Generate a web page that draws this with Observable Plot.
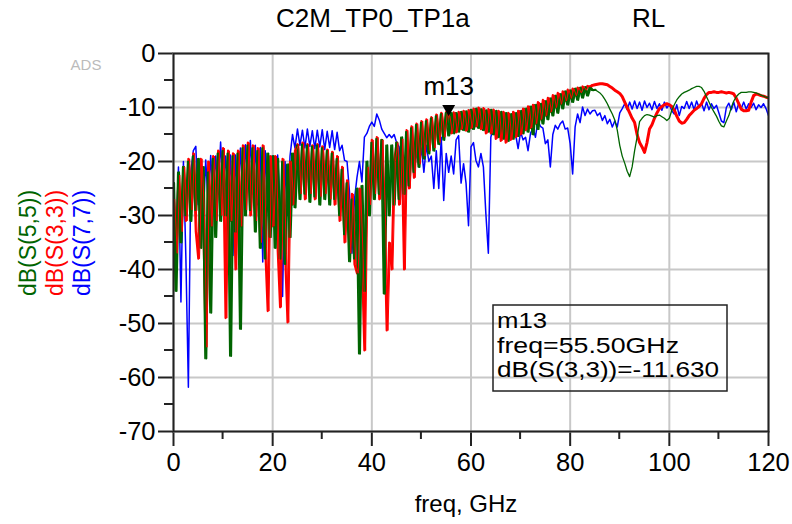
<!DOCTYPE html>
<html><head><meta charset="utf-8">
<script src="https://cdn.jsdelivr.net/npm/d3@7"></script>
<script src="https://cdn.jsdelivr.net/npm/@observablehq/plot@0.6"></script>
<style>
html,body{margin:0;padding:0;background:#fff;}
#chart{width:792px;height:524px;overflow:hidden;}
#chart svg [aria-label^="x-axis"] path, #chart svg [aria-label^="x-axis"] line,
#chart svg [aria-label^="y-axis"] path, #chart svg [aria-label^="y-axis"] line {stroke:#222;stroke-width:2px;}
</style></head><body><div id="chart"></div>
<script>
// frequency grid (GHz), 0.5 GHz sampling
const freq = d3.range(0, 241).map(i => i * 0.5);

// dB(S(5,5)) green
const s55 = [
-24,-44,-22,-35,-21,-30,-20,-31,-19,-29,
-19.5,-36,-21,-56.5,-22,-48,-19.5,-34,-18.5,-31,
-18,-30,-18.5,-56,-19,-33,-18.5,-51,-17.5,-30,
-17,-29,-17.5,-33,-18,-36,-17.5,-38,-18.5,-34,
-19,-36,-19.5,-38,-20,-39,-20.5,-34,-18.5,-28.5,
-17,-27,-16.8,-26,-17,-27.5,-17.2,-26.5,-17,-28,
-17.5,-27,-18,-28,-18.5,-27,-19.5,-30,-21.5,-33.5,
-24,-38.5,-27,-38,-25,-55.6,-24.5,-44,-20,-30,
-16.5,-27,-15.8,-26,-16,-44.5,-17,-30,-17,-28,
-16.5,-27,-15.5,-26,-14.5,-24.5,-13.8,-22,-13.2,-21,
-12.8,-19.5,-12.5,-18.5,-12,-18,-11.6,-16.8,-11.2,-16,
-11,-15.2,-11,-14.8,-11,-14.5,-10.8,-14.2,-10.7,-14.5,
-10.4,-14,-10.2,-13.8,-10.3,-14.2,-10.5,-14.5,-10.4,-15,
-10.6,-15.5,-10.8,-15.8,-11,-16.2,-11.2,-15.8,-11,-15.3,
-10.6,-14.8,-10.2,-14.5,-9.8,-15,-9.5,-14,-9.3,-13,
-8.8,-12.2,-8.3,-11.5,-7.8,-11,-7.5,-10.2,-7,-9.5,
-6.8,-9,-6.5,-8.6,-6.3,-8.2,-6.2,-7.8,-6.3,-6.8,
-6.7,-7.0,-7.3,-7.8,-8.5,-9.3,-10.3,-11.2,-12.3,-14.2,
-17,-19,-20.3,-21.8,-22.8,-21,-18,-15.5,-12.6,-12,
-11.5,-11.3,-11.4,-11.6,-11.8,-11.5,-11.4,-11.7,-12,-12.4,
-12,-10.5,-9.5,-8.6,-8,-7.5,-7.2,-7,-6.8,-6.5,
-6.3,-6.1,-6.1,-6.3,-7,-8,-9,-10,-10.8,-11.6,
-12.6,-13.4,-13.6,-12.5,-11.5,-10,-8.8,-8,-7.5,-7.2,
-7.2,-7.2,-7.1,-7.1,-7.2,-7.3,-7.5,-7.7,-7.9,-8.1,
-8.2];

// dB(S(3,3)) red
const s33 = [
-27,-37,-22.5,-33,-21,-31,-19.5,-29,-18.5,-33,
-38,-19.5,-30,-54.4,-20,-32,-19,-31,-18,-30,
-17.5,-49,-18,-31,-18.5,-40,-18,-32,-17,-29,
-16.5,-30,-17,-31,-17.5,-35,-17,-36,-47.7,-19,
-32,-19,-36,-47,-19.5,-37,-49.8,-20,-28,-18,
-16.8,-26,-16.5,-27,-16.8,-26,-17,-27,-16.8,-26.5,
-17.2,-26,-17.8,-27,-18.2,-28,-19,-31,-21,-35,
-23.5,-37,-26,-39,-40.7,-25,-38,-55,-21,-28,
-16,-26,-15.5,-27,-16,-30,-51.3,-35,-40,-20,
-16.5,-28,-15.8,-40,-14.2,-25,-13.5,-23,-13,-20.5,
-12.5,-19,-12.2,-18,-11.8,-17.5,-11.3,-16.5,-11,-15.5,
-10.8,-11.63,-14.8,-10.9,-14.6,-10.8,-14,-10.6,-14.3,-10.5,
-13.8,-10.2,-13.5,-10,-14,-10.1,-14.8,-10.3,-14.8,-10.4,
-15.8,-10.6,-16.2,-10.8,-16.5,-11,-16,-10.8,-15.5,-10.6,
-15,-10.2,-14.2,-9.8,-13.8,-9.5,-13,-9,-12.2,-8.6,
-11.5,-8.2,-10.8,-7.7,-10,-7.3,-9.4,-7,-8.8,-6.7,
-8.3,-6.5,-7.8,-6.3,-7.3,-6.1,-6.8,-6,-6.2,-5.9,
-5.8,-5.7,-5.6,-5.6,-5.7,-5.8,-6.1,-6.4,-6.8,-7.1,
-7.4,-8,-9,-10,-11,-12,-12.8,-15,-16.5,-17.3,
-18.3,-16.5,-14,-13.2,-12,-11,-10.2,-9.8,-9.5,-9.3,
-9.5,-9.8,-10.5,-11.6,-12.5,-12.9,-12.8,-12.2,-11.5,-11,
-10.5,-10.2,-9.8,-9.3,-8.3,-7.6,-7.2,-7.2,-7.1,-7.2,
-7.2,-7.1,-7.2,-7.3,-7.2,-7.3,-7.5,-8.3,-9.3,-10.3,
-10.6,-10.6,-10.5,-9,-7.8,-7.5,-7.6,-7.8,-7.9,-8.1,
-8.2];

// dB(S(7,7)) blue
const s77 = [
-24,-35,-21,-46,-20,-38,-61.8,-22,-18,-17.2,
-28,-21,-30,-19.7,-28,-18.9,-27,-19,-26,-16.4,
-25,-19,-27,-18.8,-37.4,-18.8,-28,-17.5,-26,-16.9,
-25,-16.1,-26,-17,-28,-17.4,-38.6,-18,-28,-32,
-19,-27,-18.8,-28,-45,-20,-30,-19,-15,-17.5,
-14,-17,-14.2,-17.5,-14,-17.2,-14.3,-17.6,-14.2,-17.3,
-14.1,-17.8,-14.4,-17.4,-14.3,-17.8,-14.6,-18,-17,-19.8,
-20,-25.7,-37,-27,-23,-20,-23.8,-15.5,-14.8,-13.5,
-12.7,-13.5,-11.2,-12.3,-14,-14.8,-15.6,-15,-15.6,-15,
-16.5,-17.3,-22,-33.4,-24,-19,-17,-23,-18,-21,
-17.5,-22,-17,-20,-19,-25,-18,-25,-15.5,-27.2,
-18.5,-22,-19,-22.3,-16,-15.2,-24,-20.4,-24,-31.9,
-17.3,-16.5,-19.8,-21,-18.5,-21,-29.7,-37,-15.5,-13.6,
-15,-14.5,-13.8,-15.5,-14,-13.5,-14.5,-13.8,-15,-17.6,
-14.5,-16,-15.5,-18,-14.8,-13.8,-15.5,-12.4,-13.5,-13.8,
-16.7,-16,-21,-15,-13.3,-14,-13,-12.5,-14,-13.8,
-16.7,-22.3,-13.6,-11.2,-12.8,-9.9,-11.5,-10.3,-11.2,-10.6,
-10.5,-11.5,-11,-12.4,-11.5,-13,-12.2,-13.6,-12.5,-13.6,
-11,-10.2,-9.3,-10.4,-9,-10.3,-8.8,-10.2,-9,-10.5,
-8.8,-10,-9.2,-10.4,-8.9,-10.2,-9.3,-10.5,-9,-10.1,
-9.4,-10.6,-11.2,-9.5,-11.5,-9.8,-10.2,-8.9,-10.2,-9,
-10.4,-8.8,-10,-9.2,-10.6,-9,-10.4,-9.3,-10.2,-9.6,
-11,-12.5,-12.8,-10,-9.2,-10.4,-9,-10.8,-9.2,-10.2,
-9,-10.3,-9.3,-10,-9.2,-10.4,-9.5,-10,-9.3,-10.2,
-11.5];

const traceNames = ["dB(S(5,5))", "dB(S(3,3))", "dB(S(7,7))"];
const traceColors = ["#006400", "#ff0000", "#0000ff"];
const xTicks = [0, 20, 40, 60, 80, 100, 120];
const xMinor = [10, 30, 50, 70, 90, 110];
const yTicks = [0, -10, -20, -30, -40, -50, -60, -70];
const yMinor = [-5, -15, -25, -35, -45, -55, -65];
const markerName = "m13";
const markerFreq = 55.5;
const markerValue = -11.630;

const toRows = vals => freq.map((f, i) => ({f, v: vals[i]}));
const d55 = toRows(s55), d33 = toRows(s33), d77 = toRows(s77);
const mk = [{f: markerFreq, v: markerValue}];
// dense resonant part vs smooth tail (different pen weights, as in the ADS plot)
const green1 = d55.filter(d => d.f <= 85), green2 = d55.filter(d => d.f >= 85);
const red1 = d33.filter(d => d.f <= 84), red2 = d33.filter(d => d.f >= 84);

const FONT = "'Liberation Sans', Arial, sans-serif";
const lineOpts = (color, w, dx = 0) => ({x: "f", y: "v", stroke: color, strokeWidth: w, dx, clip: true});

const chart = Plot.plot({
  width: 792, height: 524,
  marginLeft: 173, marginRight: 24, marginTop: 53, marginBottom: 93,
  style: {fontFamily: FONT, fontSize: "25.5px", color: "#000", background: "#fff", overflow: "visible"},
  x: {domain: [0, 120], ticks: xTicks, tickSize: 15, tickPadding: 6, label: null, tickFormat: d => String(d)},
  y: {domain: [-70, 0], ticks: yTicks, tickSize: 15, tickPadding: 3, label: null, tickFormat: d => String(d)},
  marks: [
    Plot.ruleX(xTicks, {stroke: "#c8c8c8", strokeWidth: 2}),
    Plot.ruleY(yTicks, {stroke: "#c8c8c8", strokeWidth: 2}),
    Plot.line(d77, lineOpts(traceColors[2], 1.5)),
    Plot.line(red1, lineOpts(traceColors[1], 2.2)),
    Plot.line(red2, lineOpts(traceColors[1], 3)),
    Plot.line(green1, lineOpts(traceColors[0], 2.0, 0.6)),
    Plot.line(green1, lineOpts(traceColors[0], 1.6, -0.7)),
    Plot.line(red1, lineOpts(traceColors[1], 1.0, 1.25)),
    Plot.line(green2, lineOpts(traceColors[0], 1.3)),
    Plot.frame({stroke: "#222", strokeWidth: 2}),
    Plot.dot(mk, {x: "f", y: "v", symbol: "triangle", r: 4.8, rotate: 180, dy: -7.5, fill: "#000", stroke: "none"}),
    Plot.text(mk, {x: "f", y: "v", text: () => markerName, dy: -30, fontSize: 26, fill: "#000"})
  ]
});
document.getElementById("chart").appendChild(chart);

const sx = chart.scale("x"), sy = chart.scale("y");
const svg = d3.select(chart);

// minor ticks
const gm = svg.append("g").attr("stroke", "#222").attr("stroke-width", 2);
const yBase = sy.apply(-70), xBase = sx.apply(0);
xMinor.forEach(f => gm.append("line").attr("x1", sx.apply(f)).attr("x2", sx.apply(f)).attr("y1", yBase).attr("y2", yBase + 8));
yMinor.forEach(v => gm.append("line").attr("y1", sy.apply(v)).attr("y2", sy.apply(v)).attr("x1", xBase - 9).attr("x2", xBase));

// titles and labels
const txt = (x, y, s, opts = {}) => {
  const t = svg.append("text").attr("x", x).attr("y", y).text(s)
    .attr("font-family", FONT).attr("font-size", opts.size || 26).attr("fill", opts.fill || "#000")
    .attr("text-anchor", opts.anchor || "start");
  if (opts.transform) t.attr("transform", opts.transform);
  if (opts.len) t.attr("textLength", opts.len).attr("lengthAdjust", "spacingAndGlyphs");
  return t;
};
txt(276, 27, "C2M_TP0_TP1a", {size: 26});
txt(632, 27, "RL", {size: 26});
txt(86, 70, "ADS", {size: 15, fill: "#bbbbbb", anchor: "middle"});
txt(466, 512, "freq, GHz", {size: 24, anchor: "middle"});
const yl = [36, 63, 90];
traceNames.forEach((n, i) => {
  txt(0, 0, n, {size: 23, fill: traceColors[i], anchor: "middle", transform: `translate(${yl[i]},243) rotate(-90)`});
});

// marker readout box
svg.append("rect").attr("x", 493).attr("y", 305).attr("width", 234).attr("height", 86)
  .attr("fill", "none").attr("stroke", "#222").attr("stroke-width", 1.5);
txt(497, 328, markerName, {size: 21.5, len: 50});
txt(497, 352.5, `freq=${markerFreq.toFixed(2)}GHz`, {size: 21.5, len: 182});
txt(497, 377, `${traceNames[1]}=${markerValue.toFixed(3)}`, {size: 21.5, len: 222});
</script>
</body></html>
